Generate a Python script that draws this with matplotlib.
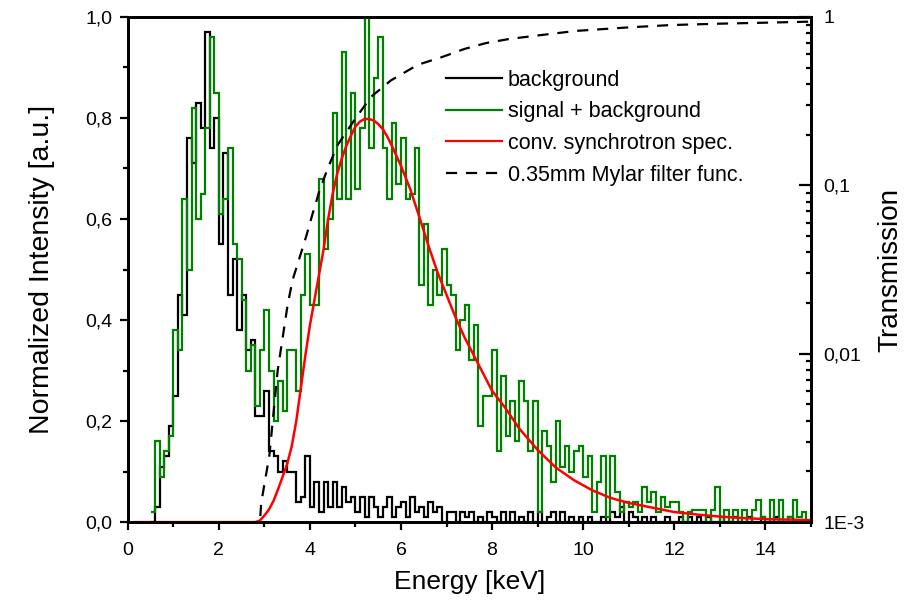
import numpy as np
import matplotlib
matplotlib.use('Agg')
import matplotlib.pyplot as plt
from matplotlib.ticker import FixedLocator, FixedFormatter, MultipleLocator, LogLocator, NullFormatter

plt.rcParams['font.family'] = ['Liberation Sans', 'DejaVu Sans']

# histogram bins (keV)
bin_start = 0.5
bin_width = 0.1

# signal + background (green), bins from 0.5 keV
signal_bg = [
    0.02, 0.16, 0.09, 0.14, 0.17,    # 0.5-0.9
    0.38, 0.34, 0.64, 0.50, 0.82,    # 1.0-1.4
    0.60, 0.65, 0.78, 0.96, 0.85,    # 1.5-1.9
    0.61, 0.64, 0.74, 0.55, 0.52,    # 2.0-2.4
    0.44, 0.30, 0.35, 0.23, 0.34,    # 2.5-2.9
    0.42, 0.30, 0.20, 0.28, 0.22,    # 3.0-3.4
    0.34, 0.34, 0.26, 0.45, 0.53,    # 3.5-3.9
    0.43, 0.43, 0.68, 0.54, 0.60,    # 4.0-4.4
    0.81, 0.64, 0.93, 0.64, 0.85,    # 4.5-4.9
    0.66, 0.78, 1.00, 0.74, 0.88,    # 5.0-5.4
    0.96, 0.74, 0.64, 0.79, 0.67,    # 5.5-5.9
    0.76, 0.64, 0.65, 0.74, 0.47,    # 6.0-6.4
    0.59, 0.43, 0.50, 0.45, 0.54,    # 6.5-6.9
    0.47, 0.45, 0.34, 0.40, 0.43,    # 7.0-7.4
    0.32, 0.39, 0.19, 0.25, 0.25,    # 7.5-7.9
    0.34, 0.14, 0.29, 0.17, 0.24,    # 8.0-8.4
    0.16, 0.28, 0.24, 0.14, 0.24,    # 8.5-8.9
    0.02, 0.18, 0.15, 0.08, 0.20,    # 9.0-9.4
    0.11, 0.15, 0.10, 0.14, 0.15,    # 9.5-9.9
    0.09, 0.13, 0.02, 0.08, 0.13,    # 10.0-10.4
    0.01, 0.13, 0.06, 0.02, 0.04,    # 10.5-10.9
    0.03, 0.04, 0.02, 0.07, 0.04,    # 11.0-11.4
    0.06, 0.02, 0.05, 0.03, 0.04,    # 11.5-11.9
    0.04, 0.02, 0.00, 0.02, 0.024,   # 12.0-12.4
    0.024, 0.024, 0.00, 0.024, 0.07, # 12.5-12.9
    0.00, 0.024, 0.00, 0.024, 0.00,  # 13.0-13.4
    0.024, 0.00, 0.024, 0.043, 0.01, # 13.5-13.9
    0.00, 0.043, 0.00, 0.043, 0.00,  # 14.0-14.4
    0.01, 0.043, 0.01, 0.02, 0.00,   # 14.5-14.9
]

# background only (black), same bins
background = [
    0.00, 0.03, 0.11, 0.13, 0.19,
    0.25, 0.45, 0.41, 0.76, 0.71,
    0.83, 0.78, 0.97, 0.74, 0.80,
    0.55, 0.73, 0.45, 0.52, 0.38,
    0.45, 0.34, 0.36, 0.21, 0.21,
    0.26, 0.14, 0.13, 0.10, 0.12,
    0.10, 0.10, 0.04, 0.05, 0.13,
    0.03, 0.08, 0.02, 0.08, 0.03,
    0.08, 0.03, 0.07, 0.04, 0.05,
    0.02, 0.05, 0.01, 0.05, 0.03,
    0.01, 0.03, 0.05, 0.01, 0.03,
    0.04, 0.01, 0.05, 0.02, 0.03,
    0.01, 0.04, 0.02, 0.03, 0.00,
    0.02, 0.02, 0.00, 0.02, 0.01,
    0.02, 0.00, 0.01, 0.00, 0.02,
    0.01, 0.00, 0.02, 0.00, 0.02,
    0.00, 0.01, 0.00, 0.02, 0.00,
    0.02, 0.00, 0.01, 0.02, 0.00,
    0.02, 0.00, 0.01, 0.00, 0.01,
    0.00, 0.01, 0.00, 0.00, 0.01,
    0.00, 0.02, 0.01, 0.03, 0.00,
    0.02, 0.01, 0.00, 0.01, 0.00,
    0.01, 0.00, 0.00, 0.01, 0.00,
    0.00, 0.01, 0.00, 0.01, 0.00,
    0.01, 0.00, 0.01, 0.00, 0.00,
    0.01, 0.00, 0.00, 0.01, 0.00,
    0.00, 0.01, 0.00, 0.00, 0.01,
    0.00, 0.00, 0.01, 0.00, 0.00,
    0.01, 0.00, 0.00, 0.00, 0.00,
]

# convolved synchrotron spectrum (red)
sync_E = [0.15, 2.8, 2.9, 3.0, 3.1, 3.2, 3.3, 3.4, 3.5, 3.6, 3.7, 3.8, 3.9, 4.0,
          4.1, 4.2, 4.3, 4.4, 4.5, 4.6, 4.7, 4.8, 4.9, 5.0, 5.1, 5.2, 5.3, 5.4,
          5.5, 5.6, 5.7, 5.8, 6.0, 6.2, 6.4, 6.6, 6.8, 7.0, 7.2, 7.4, 7.6, 7.8,
          8.0, 8.3, 8.6, 9.0, 9.4, 9.8, 10.2, 10.6, 11.0, 11.5, 12.0, 12.5,
          13.0, 13.5, 14.0, 14.5, 15.0]
sync_I = [0.0, 0.0, 0.003, 0.013, 0.025, 0.042, 0.065, 0.09, 0.115, 0.15, 0.2,
          0.265, 0.33, 0.39, 0.44, 0.49, 0.54, 0.6, 0.65, 0.69, 0.72, 0.745,
          0.765, 0.783, 0.793, 0.798, 0.798, 0.795, 0.788, 0.778, 0.763, 0.745,
          0.705, 0.66, 0.605, 0.548, 0.495, 0.45, 0.405, 0.365, 0.33, 0.295,
          0.26, 0.225, 0.185, 0.143, 0.108, 0.083, 0.063, 0.048, 0.038, 0.029,
          0.02, 0.015, 0.011, 0.008, 0.006, 0.005, 0.004]

# 0.35mm Mylar filter transmission (dashed, right axis)
mylar_E = [2.85, 2.93, 3.11, 3.29, 3.51, 3.62, 3.77, 3.92, 4.06, 4.21, 4.39,
           4.61, 4.98, 5.34, 5.78, 6.37, 6.88, 7.39, 7.87, 8.38, 9.0, 9.84,
           11.0, 11.93, 13.0, 14.2, 15.0]
mylar_T = [6.3e-4, 1.3e-3, 2.5e-3, 7.9e-3, 0.0195, 0.0275, 0.037, 0.05, 0.068,
           0.093, 0.126, 0.174, 0.245, 0.335, 0.42, 0.52, 0.575, 0.645, 0.70,
           0.74, 0.776, 0.826, 0.867, 0.895, 0.912, 0.927, 0.938]

edges = np.round(bin_start + bin_width * np.arange(len(signal_bg) + 1), 2)

fig = plt.figure(figsize=(9.13, 6.05), dpi=100)
ax = fig.add_axes([0.140, 0.137, 0.748, 0.835])

ax.stairs(background, edges, color='black', lw=1.6, baseline=None, zorder=2)
ax.stairs(signal_bg, edges, color='#008000', lw=1.6, baseline=None, zorder=3)
ax.plot(sync_E, sync_I, color='#ff0000', lw=1.8, zorder=4)

ax.set_xlim(0, 15)
ax.set_ylim(0, 1.0)
ax.xaxis.set_major_locator(MultipleLocator(2))
ax.xaxis.set_minor_locator(MultipleLocator(1))
ax.yaxis.set_major_locator(FixedLocator([0, 0.2, 0.4, 0.6, 0.8, 1.0]))
ax.yaxis.set_major_formatter(FixedFormatter(['0,0', '0,2', '0,4', '0,6', '0,8', '1,0']))
ax.yaxis.set_minor_locator(MultipleLocator(0.1))
ax.tick_params(which='both', direction='out', top=False, right=False, labelsize=14, width=1.6)
ax.tick_params(which='major', length=6)
ax.tick_params(which='minor', length=3.5)
ax.tick_params(axis='y', which='major', pad=5)
ax.tick_params(axis='x', which='major', pad=8)
for s in ax.spines.values():
    s.set_linewidth(2)
ax.set_xlabel('Energy [keV]', fontsize=19, labelpad=8)
ax.set_ylabel('Normalized Intensity [a.u.]', fontsize=20.5, labelpad=22)

ax2 = ax.twinx()
ax2.plot(mylar_E, mylar_T, color='black', lw=1.6, dashes=(5, 4), zorder=5)
ax2.set_yscale('log')
ax2.set_ylim(1e-3, 1)
ax2.yaxis.set_major_locator(FixedLocator([1e-3, 1e-2, 1e-1, 1]))
ax2.yaxis.set_major_formatter(FixedFormatter(['1E-3', '0,01', '0,1', '1']))
ax2.yaxis.set_minor_locator(LogLocator(base=10, subs=np.arange(2, 10)))
ax2.yaxis.set_minor_formatter(NullFormatter())
ax2.tick_params(which='both', direction='in', labelsize=14, width=1.6)
ax2.tick_params(which='major', length=9, pad=9)
ax2.tick_params(which='minor', length=3.5)
for s in ax2.spines.values():
    s.set_linewidth(2)
ax2.set_ylabel('Transmission', fontsize=20, labelpad=9)

lines = [plt.Line2D([], [], color='black', lw=1.6),
         plt.Line2D([], [], color='#008000', lw=1.6),
         plt.Line2D([], [], color='#ff0000', lw=1.6),
         plt.Line2D([], [], color='black', lw=1.6, dashes=(5, 4))]
labels = ['background', 'signal + background', 'conv. synchrotron spec.',
          '0.35mm Mylar filter func.']
ax2.legend(lines, labels, loc='upper left', bbox_to_anchor=(0.453, 0.913),
           frameon=False, fontsize=15.5, handlelength=2.6, handletextpad=0.28,
           labelspacing=0.5, borderaxespad=0)

fig.savefig('out.png', dpi=100)
